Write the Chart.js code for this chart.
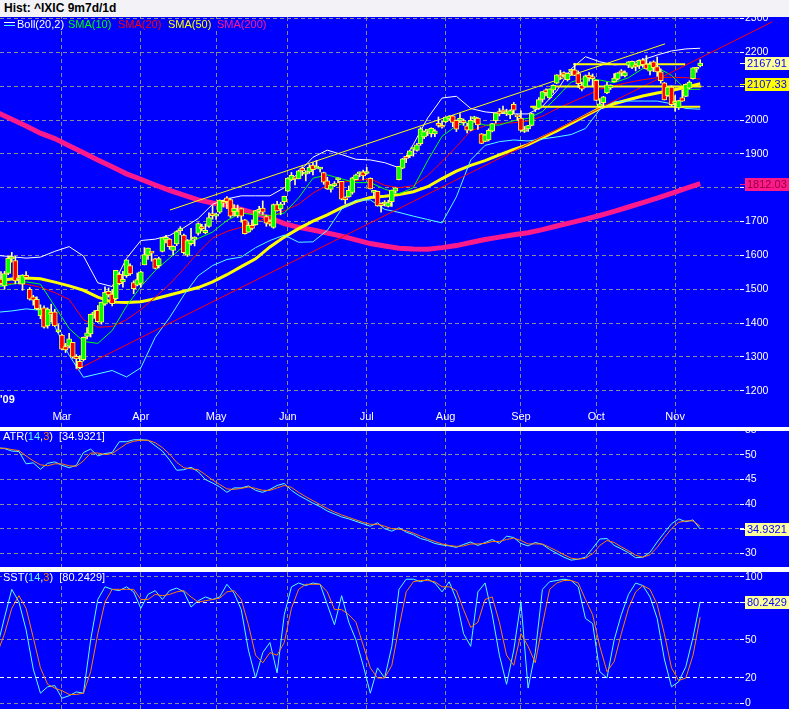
<!DOCTYPE html>
<html>
<head>
<meta charset="utf-8">
<script src="https://cdn.jsdelivr.net/npm/chart.js@4.4.1/dist/chart.umd.min.js"></script>
<style>
  html, body { margin: 0; padding: 0; background: #ffffff; }
  body { width: 789px; height: 712px; position: relative; overflow: hidden; }
  #titulo {
    position: absolute; left: 0; top: 0; width: 789px; height: 17px;
    background: #f3f3f7; color: #000; padding-left: 4px; box-sizing: border-box;
    font: bold 12px 'Liberation Sans', Arial, sans-serif; line-height: 17px;
  }
  canvas { position: absolute; left: 0; display: block; background: #0000ff; }
  #graficoPreco { top: 17px; }
  #graficoAtr { top: 431px; }
  #graficoSst { top: 572px; }
</style>
</head>
<body>
<div id="titulo">Hist: ^IXIC 9m7d/1d</div>
<canvas id="graficoPreco" width="789" height="410"></canvas>
<canvas id="graficoAtr" width="789" height="136"></canvas>
<canvas id="graficoSst" width="789" height="137"></canvas>
<script>
// pregões a partir de 4/fev/2009 (índice 0)
const meses = ['Mar', 'Apr', 'May', 'Jun', 'Jul', 'Aug', 'Sep', 'Oct', 'Nov'];
const inicioMes = [17, 39, 60, 80, 102, 124, 145, 166, 188];

const abertura = [1530,1510,1547,1590,1585,1528,1515,1541,1500,1478,1470,1422,1445,1392,1432,1433,1374,1365,1331,1332,
  1343,1302,1287,1292,1361,1368,1427,1438,1403,1456,1494,1486,1472,1544,1522,1540,1570,1520,1512,1517,
  1572,1600,1610,1590,1570,1612,1646,1648,1615,1634,1673,1660,1601,1635,1648,1665,1681,1667,1686,1718,
  1716,1728,1759,1770,1765,1729,1717,1738,1705,1669,1689,1691,1730,1740,1715,1700,1683,1750,1737,1759,
  1790,1823,1827,1826,1858,1840,1847,1867,1858,1855,1845,1820,1795,1806,1823,1819,1769,1773,1786,1824,
  1841,1847,1842,1828,1786,1789,1749,1752,1745,1759,1790,1824,1858,1888,1895,1914,1910,1930,1950,1967,
  1959,1959,1989,1979,1994,2003,2012,1999,1999,1997,1983,1970,2003,2006,1959,1937,1941,1967,1998,2025,
  2026,2018,2015,2046,2015,2006,1966,1974,1984,2032,2034,2061,2089,2065,2088,2109,2131,2140,2119,2144,
  2148,2137,2103,2098,2133,2128,2117,2040,2051,2080,2095,2113,2121,2143,2130,2162,2155,2157,2160,2178,
  2165,2144,2172,2158,2142,2110,2072,2097,2049,2036,2066,2070,2094,2122,2150,2160];
const maxima = [1552,1553,1597,1609,1597,1541,1543,1552,1505,1482,1478,1454,1451,1445,1456,1441,1396,1367,1340,1370,
  1343,1307,1304,1359,1387,1427,1437,1452,1462,1507,1504,1499,1556,1550,1553,1587,1575,1525,1548,1553,
  1623,1622,1610,1591,1595,1653,1659,1650,1628,1673,1685,1663,1647,1680,1655,1696,1692,1693,1726,1747,
  1725,1764,1763,1774,1768,1750,1749,1740,1706,1697,1705,1733,1745,1761,1718,1705,1752,1760,1757,1775,
  1830,1845,1828,1852,1862,1850,1868,1874,1880,1860,1846,1831,1810,1818,1829,1819,1773,1805,1831,1840,
  1847,1852,1860,1829,1789,1790,1755,1762,1763,1793,1800,1863,1887,1889,1910,1917,1931,1978,1968,1971,
  1977,1972,2009,1996,2009,2013,2013,2000,2019,2003,1990,2010,2011,2007,1960,1958,1974,1990,2021,2034,
  2041,2032,2030,2052,2016,2027,1981,1984,2020,2038,2066,2084,2092,2092,2104,2134,2147,2142,2139,2150,
  2167,2145,2112,2133,2140,2136,2118,2063,2070,2111,2104,2137,2140,2149,2145,2173,2174,2163,2178,2182,
  2190,2172,2175,2186,2151,2111,2098,2101,2072,2058,2089,2107,2116,2155,2156,2178];
const minima = [1512,1500,1543,1580,1516,1516,1497,1531,1468,1453,1440,1413,1385,1385,1404,1390,1371,1321,1313,1327,
  1296,1266,1265,1288,1353,1359,1414,1402,1397,1452,1477,1451,1468,1513,1506,1535,1541,1487,1510,1506,
  1572,1588,1583,1560,1563,1610,1637,1618,1601,1629,1661,1604,1597,1630,1628,1660,1672,1664,1683,1707,
  1706,1724,1743,1738,1712,1717,1712,1698,1663,1668,1675,1689,1725,1721,1686,1687,1680,1731,1720,1750,
  1789,1821,1808,1826,1836,1820,1842,1838,1857,1847,1810,1795,1787,1803,1815,1764,1752,1772,1781,1823,
  1832,1823,1840,1796,1769,1745,1728,1746,1743,1745,1785,1823,1856,1874,1889,1893,1908,1925,1945,1954,
  1950,1951,1979,1976,1992,1999,1980,1966,1992,1984,1962,1968,1993,1972,1930,1936,1938,1965,1991,2012,
  2020,2013,2004,2019,1999,1966,1963,1966,1983,2025,2031,2053,2071,2062,2080,2107,2120,2127,2115,2134,
  2131,2096,2086,2097,2115,2098,2057,2037,2038,2078,2090,2112,2118,2130,2127,2155,2152,2145,2152,2156,
  2150,2133,2143,2129,2109,2059,2070,2040,2026,2031,2055,2069,2092,2121,2141,2157];
const fechamento = [1516.3,1546.2,1591.7,1591.6,1524.7,1530.5,1541.7,1534.4,1470.7,1468.0,1442.8,1441.2,1387.7,1441.8,1425.4,1391.5,1377.8,1322.9,1321.0,1353.7,
  1299.6,1293.9,1268.6,1358.3,1371.6,1426.1,1431.5,1404.0,1462.1,1491.2,1483.5,1457.3,1555.8,1516.5,1529.0,1587.0,1545.2,1501.8,1528.6,1551.6,
  1602.6,1621.9,1606.7,1561.6,1590.7,1652.5,1653.3,1625.7,1626.8,1670.4,1673.1,1608.2,1643.9,1646.1,1652.2,1694.3,1679.0,1673.8,1711.4,1717.3,
  1719.2,1763.6,1754.1,1759.1,1716.2,1739.0,1731.2,1715.9,1664.2,1689.2,1680.1,1732.4,1734.5,1727.8,1695.3,1692.0,1750.4,1731.1,1751.8,1774.3,
  1828.7,1836.8,1825.9,1850.0,1849.4,1842.4,1860.1,1853.1,1862.4,1858.8,1816.4,1796.2,1808.1,1807.7,1827.5,1766.2,1764.9,1792.3,1829.5,1838.2,
  1844.1,1835.0,1845.7,1796.5,1787.4,1746.2,1747.2,1752.6,1756.0,1793.2,1799.7,1862.9,1885.0,1886.6,1909.3,1916.2,1926.4,1973.6,1966.0,1967.9,
  1975.5,1967.8,1984.3,1978.5,2008.6,2011.3,1993.1,1973.2,2000.3,1992.2,1969.7,1998.7,2009.4,1985.5,1930.8,1955.9,1969.2,1989.2,2020.9,2018.0,
  2024.2,2024.4,2027.7,2028.8,2009.1,1968.9,1967.1,1983.2,2018.8,2037.8,2060.4,2084.0,2080.9,2091.8,2102.6,2133.2,2126.8,2132.9,2138.0,2146.3,
  2131.4,2107.6,2090.9,2130.7,2124.0,2122.4,2057.5,2048.1,2068.2,2103.6,2103.4,2123.9,2139.3,2139.1,2139.9,2172.2,2173.3,2156.8,2176.3,2163.5,
  2150.7,2165.3,2154.5,2141.9,2116.1,2059.6,2097.6,2045.1,2049.2,2057.3,2055.5,2105.3,2112.4,2154.1,2151.1,2167.91];

// médias e bandas lidas a cada 4 pregões
const diasLinha = [-1,3,7,11,15,19,23,27,31,35,39,43,47,51,55,59,63,67,71,75,79,83,87,91,95,99,103,107,111,115,119,123,127,131,135,139,143,147,151,155,159,163,167,171,175,179,183,187,191,195];
const sma10 = [1506,1515,1522,1515,1450,1384,1346,1340,1378,1450,1508,1555,1592,1627,1650,1669,1703,1725,1720,1718,
  1725,1770,1828,1838,1826,1815,1815,1796,1782,1800,1880,1952,1983,1997,1985,1985,1998,2005,2025,2067,
  2112,2124,2118,2110,2125,2152,2155,2132,2090,2091];
const sma20 = [1518,1517,1515,1506,1490,1470,1410,1388,1390,1410,1440,1476,1515,1560,1609,1651,1671,1683,1699,1714,
  1732,1751,1784,1807,1816,1821,1826,1807,1800,1806,1836,1877,1921,1968,1983,1990,1992,1997,2011,2033,
  2052,2071,2091,2101,2111,2119,2125,2126,2125,2121];
const sma50 = [1525,1530,1533,1531,1521,1510,1497,1477,1462,1461,1463,1472,1483,1494,1505,1522,1543,1567,1590,1625,
  1654,1679,1701,1720,1741,1759,1771,1775,1780,1788,1803,1827,1849,1866,1880,1897,1913,1927,1948,1968,
  1990,2012,2035,2048,2060,2071,2080,2087,2097,2107];
const sma200 = [2022,2002,1982,1961,1945,1924,1903,1882,1862,1841,1825,1808,1792,1778,1764,1755,1748,1736,1724,1711,
  1694,1683,1675,1666,1657,1646,1635,1628,1621,1619,1618,1623,1629,1638,1647,1654,1661,1667,1676,1687,
  1697,1707,1718,1730,1743,1756,1769,1783,1798,1812];
const bollSup = [1600,1596,1592,1595,1612,1626,1598,1519,1508,1591,1644,1648,1659,1682,1709,1751,1767,1776,1776,1776,
  1800,1845,1890,1911,1898,1884,1882,1874,1859,1928,2006,2065,2070,2034,2024,2020,2018,2018,2040,2086,
  2151,2187,2172,2163,2165,2178,2192,2204,2210,2212];
const bollInf = [1432,1436,1442,1438,1390,1305,1240,1250,1260,1241,1268,1358,1416,1483,1540,1570,1588,1595,1623,1644,
  1660,1639,1640,1674,1737,1763,1764,1736,1727,1716,1706,1696,1773,1882,1925,1936,1941,1938,1944,1950,
  1957,1975,2031,2054,2056,2056,2056,2048,2034,2032];

// linhas de tendência desenhadas à mão (pregão inicial/final e preço)
const tendVermDias = [20.9, 215.1];
const tendVermValores = [1261, 2290];
const tendAmarDias = [47.1, 185.2];
const tendAmarValores = [1734, 2225];
const horizInicio = [159.6, 153.4, 147.6];
const horizFim = [190.8, 195.3, 195.0];
const horizValor = [2164.5, 2099, 2039];

// osciladores lidos a cada 2 pregões
const diasOsc = [-1,1,3,5,7,9,11,13,15,17,19,21,23,25,27,29,31,33,35,37,39,41,43,45,47,49,51,53,55,57,59,61,63,65,67,69,
  71,73,75,77,79,81,83,85,87,89,91,93,95,97,99,101,103,105,107,109,111,113,115,117,119,121,123,125,127,129,131,133,135,
  137,139,141,143,145,147,149,151,153,155,157,159,161,163,165,167,169,171,173,175,177,179,181,183,185,187,189,191,193,195];
const atr = [51.5,51.3,50.8,50.7,48.2,48.4,47.1,48.3,48.6,47.9,47.4,47.9,50.5,51.2,49.8,50.3,50.5,52.7,52.7,53.1,
  53.1,53.0,51.9,50.8,49.0,46.9,47.0,47.5,46.6,45.0,44.3,43.5,42.4,43.3,43.3,43.7,42.8,42.4,43.0,43.8,
  44.2,42.8,41.8,41.0,40.2,39.5,38.6,38.0,37.4,37.0,36.5,36.0,35.5,36.2,35.0,34.5,35.2,34.3,33.8,33.0,
  32.6,32.0,31.7,31.5,31.2,31.8,32.3,31.6,32.2,32.8,32.0,33.5,33.2,32.0,31.5,32.2,31.8,30.8,30.0,29.2,
  28.6,28.8,29.2,31.0,32.9,33.0,31.6,30.9,30.1,29.1,29.2,30.2,32.3,34.2,36.0,37.0,36.4,36.8,34.93];
const atrMedia = [51.3,51.4,51.1,50.9,49.8,48.8,48.0,47.8,48.2,48.2,47.8,47.7,48.8,50.4,50.4,50.1,50.3,51.3,52.3,52.8,
  53.0,53.0,52.5,51.5,50.2,48.5,47.4,47.2,47.0,46.0,44.9,44.0,43.1,43.0,43.2,43.5,43.2,42.8,42.8,43.3,
  43.8,43.4,42.4,41.5,40.7,39.9,39.1,38.4,37.8,37.3,36.8,36.3,35.9,35.9,35.5,35.0,34.9,34.6,34.1,33.5,
  32.9,32.4,31.9,31.6,31.4,31.5,31.9,31.9,32.0,32.4,32.4,32.8,33.1,32.6,31.9,31.9,31.9,31.2,30.5,29.7,
  29.0,28.8,29.0,29.9,31.6,32.6,32.2,31.3,30.5,29.6,29.2,29.7,31.2,33.2,35.0,36.3,36.6,36.6,35.5];
const sstK = [45,68,90,80,58,27,8,13,14,4,6,9,8,50,82,92,90,89,92,88,
  75,86,89,82,89,91,88,76,81,84,82,84,94,87,74,42,20,40,48,24,
  70,92,95,93,95,94,78,62,85,64,50,30,8,28,20,45,90,98,98,96,
  98,95,88,96,82,55,45,88,95,70,38,15,42,80,12,40,90,96,97,98,
  97,92,67,63,25,20,50,70,86,95,93,84,67,35,13,17,29,52,80.24];
const sstD = [40,55,75,85,75,52,28,15,12,10,7,7,8,25,55,80,90,90,90,90,
  82,82,86,85,86,88,89,84,80,81,82,83,88,89,82,62,38,32,40,38,
  48,75,90,94,94,94,88,74,74,70,64,46,28,20,20,30,60,88,96,97,
  97,96,92,92,89,74,60,64,82,84,64,38,30,55,45,32,62,90,95,97,
  97,95,82,70,45,25,33,55,75,88,93,90,78,55,28,18,20,38,68];

const ultimoFech = 2167.91, ultimoSma50 = 2107.33, ultimoSma200 = 1812.03;
const ultimoAtr = 34.9321, ultimoSst = 80.2429;

const AZUL = '#0000ff';
const CINZA = '#8c8c98';
const CINZA_V = '#8c8a80';
const CIANO = '#5cffff';
const LARANJA = '#ff8000';
const ROSA = '#ff1a8c';
const FONTE = "'Liberation Sans', Arial, sans-serif";
const TRACO = [4, 3];

Chart.defaults.font.family = FONTE;
Chart.defaults.font.size = 10.5;
Chart.defaults.color = '#ffffff';

const pontos = (xs, ys) => xs.map((x, i) => ({ x: x, y: ys[i] }));

function eixoX() {
  return {
    type: 'linear', min: -0.28, max: 206.1, offset: false,
    grid: { color: CINZA_V, drawTicks: false, offset: false },
    border: { display: false, dash: TRACO },
    ticks: { display: false },
    afterBuildTicks: s => { s.ticks = inicioMes.map(v => ({ value: v })); },
    afterFit: s => { s.height = 0; s.paddingLeft = 0; s.paddingRight = 0; }
  };
}

function eixoY(min, max, valoresTicks, corGrade) {
  return {
    position: 'right', min: min, max: max,
    grid: { color: corGrade, tickColor: '#ffffff', tickLength: 4, tickBorderDash: [] },
    border: { display: false, dash: TRACO },
    ticks: { color: '#ffffff', padding: 1, autoSkip: false, callback: v => String(v) },
    afterBuildTicks: s => { s.ticks = valoresTicks.map(v => ({ value: v })); },
    afterFit: s => { s.width = 49; s.paddingTop = 0; s.paddingBottom = 0; }
  };
}

function escreverPartes(ctx, x, y, partes) {
  ctx.save();
  ctx.font = '11px ' + FONTE;
  ctx.textBaseline = 'middle';
  ctx.textAlign = 'left';
  let largura = 0;
  partes.forEach(p => { largura += ctx.measureText(p[0]).width; });
  ctx.fillStyle = AZUL;
  ctx.fillRect(x - 1, y - 6, largura + 2, 12);
  partes.forEach(([texto, cor]) => {
    ctx.fillStyle = cor;
    ctx.fillText(texto, x, y);
    x += ctx.measureText(texto).width;
  });
  ctx.restore();
}

function caixaValor(chart, valor, texto, fundo, corTexto, corTraco) {
  const ctx = chart.ctx;
  const y = Math.round(chart.scales.y.getPixelForValue(valor));
  const dir = chart.chartArea.right;
  ctx.save();
  ctx.fillStyle = corTraco;
  ctx.fillRect(dir, y, 5, 1);
  ctx.fillStyle = fundo;
  ctx.fillRect(dir + 5, y - 6, chart.width - dir - 5, 13);
  ctx.fillStyle = corTexto;
  ctx.font = '11px ' + FONTE;
  ctx.textBaseline = 'middle';
  ctx.textAlign = 'left';
  ctx.fillText(texto, dir + 7, y + 1);
  ctx.restore();
}

function linha(dados, cor, largura, extra) {
  return Object.assign({
    type: 'line', data: dados, borderColor: cor, borderWidth: largura,
    pointRadius: 0, tension: 0, fill: false
  }, extra || {});
}

const opcoesBase = {
  responsive: false, animation: false, devicePixelRatio: 1, events: [],
  layout: { padding: 0, autoPadding: false },
  plugins: { legend: { display: false }, tooltip: { enabled: false } }
};

// ---- painel de preço ----
const dias = fechamento.map((_, i) => i);
const pavios = dias.map(i => ({ x: i, y: [minima[i], maxima[i]] }));
const corpos = dias.map(i => ({ x: i, y: [abertura[i], fechamento[i]] }));
const corCorpo = dias.map(i => fechamento[i] >= abertura[i] ? '#00ff00' : '#ff0000');

const datasetsPreco = [
  { type: 'bar', data: corpos, backgroundColor: corCorpo, borderColor: '#ffff40', borderWidth: 1,
    borderSkipped: false, barThickness: 5, grouped: false, minBarLength: 2 },
  { type: 'bar', data: pavios, backgroundColor: '#ffffa0', borderWidth: 0, barThickness: 1, grouped: false }
];
horizValor.forEach((v, k) => {
  datasetsPreco.push(linha(pontos([horizInicio[k], horizFim[k]], [v, v]), '#ffff00', 2));
});
datasetsPreco.push(
  linha(pontos(tendAmarDias, tendAmarValores), '#ffff00', 1),
  linha(pontos(tendVermDias, tendVermValores), '#ff0000', 1, { clip: false }),
  linha(pontos(diasLinha, sma10), '#00ff00', 1),
  linha(pontos(diasLinha, sma20), '#ff0000', 1),
  linha(pontos(diasLinha, bollSup), '#ffffff', 1),
  linha(pontos(diasLinha, bollInf), CIANO, 1),
  linha(pontos(diasLinha, sma50), '#ffff00', 3),
  linha(pontos(diasLinha, sma200), ROSA, 5)
);

const pluginPreco = {
  id: 'pluginPreco',
  afterDraw(chart) {
    const ctx = chart.ctx;
    const x = chart.scales.x;
    ctx.save();
    // ícone do Bollinger
    ctx.fillStyle = '#ffffff';
    ctx.fillRect(4, 5, 11, 1);
    ctx.fillStyle = CIANO;
    ctx.fillRect(4, 8, 11, 1);
    ctx.restore();
    escreverPartes(ctx, 17, 8, [['Boll(20,2)', '#ffffff']]);
    escreverPartes(ctx, 68, 8, [['SMA(10)', '#00ff00']]);
    escreverPartes(ctx, 118, 8, [['SMA(20)', '#ff0000']]);
    escreverPartes(ctx, 168, 8, [['SMA(50)', '#ffff00']]);
    escreverPartes(ctx, 217, 8, [['SMA(200)', ROSA]]);

    ctx.save();
    ctx.fillStyle = '#ffffff';
    ctx.font = '11px ' + FONTE;
    ctx.textAlign = 'center';
    ctx.textBaseline = 'middle';
    meses.forEach((m, k) => ctx.fillText(m, x.getPixelForValue(inicioMes[k]), 400));
    ctx.font = 'bold 11px ' + FONTE;
    ctx.textAlign = 'left';
    ctx.fillText("'09", 0, 383);
    ctx.restore();

    caixaValor(chart, ultimoFech, ultimoFech.toFixed(2), '#ffff99', '#0000ff', '#ffffff');
    caixaValor(chart, ultimoSma50, ultimoSma50.toFixed(2), '#ffff00', '#0000ff', '#ffff00');
    caixaValor(chart, ultimoSma200, ultimoSma200.toFixed(2), ROSA, '#900040', ROSA);
  }
};

new Chart(document.getElementById('graficoPreco'), {
  type: 'bar',
  data: { datasets: datasetsPreco },
  options: Object.assign({}, opcoesBase, {
    scales: {
      x: eixoX(),
      y: eixoY(1093.1, 2304.3, [1200,1300,1400,1500,1600,1700,1800,1900,2000,2100,2200,2300], CINZA)
    }
  }),
  plugins: [pluginPreco]
});

// ---- painel ATR ----
new Chart(document.getElementById('graficoAtr'), {
  type: 'line',
  data: {
    datasets: [
      linha(pontos(diasOsc, atrMedia), LARANJA, 1),
      linha(pontos(diasOsc, atr), CIANO, 1)
    ]
  },
  options: Object.assign({}, opcoesBase, {
    scales: { x: eixoX(), y: eixoY(27.21, 54.88, [30, 35, 40, 45, 50, 55], CINZA) }
  }),
  plugins: [{
    id: 'pluginAtr',
    afterDraw(chart) {
      escreverPartes(chart.ctx, 3, 6, [['ATR(', '#ffffff'], ['14', CIANO], [',', '#ffffff'], ['3', LARANJA],
        [')  [' + ultimoAtr.toFixed(4) + ']', '#ffffff']]);
      caixaValor(chart, ultimoAtr, ultimoAtr.toFixed(4), '#ffff99', '#0000ff', '#ffffff');
    }
  }]
});

// ---- painel SST ----
new Chart(document.getElementById('graficoSst'), {
  type: 'line',
  data: {
    datasets: [
      linha(pontos(diasOsc, sstD), LARANJA, 1),
      linha(pontos(diasOsc, sstK), CIANO, 1)
    ]
  },
  options: Object.assign({}, opcoesBase, {
    scales: {
      x: eixoX(),
      y: eixoY(-4.5, 103.7, [0, 20, 50, 80, 100],
        c => (c.tick && (c.tick.value === 20 || c.tick.value === 80)) ? '#ffffff' : CINZA)
    }
  }),
  plugins: [{
    id: 'pluginSst',
    afterDraw(chart) {
      escreverPartes(chart.ctx, 3, 6, [['SST(', '#ffffff'], ['14', CIANO], [',', '#ffffff'], ['3', LARANJA],
        [')  [' + ultimoSst.toFixed(4) + ']', '#ffffff']]);
      caixaValor(chart, ultimoSst, ultimoSst.toFixed(4), '#ffff99', '#0000ff', '#ffffff');
    }
  }]
});
</script>
</body>
</html>
